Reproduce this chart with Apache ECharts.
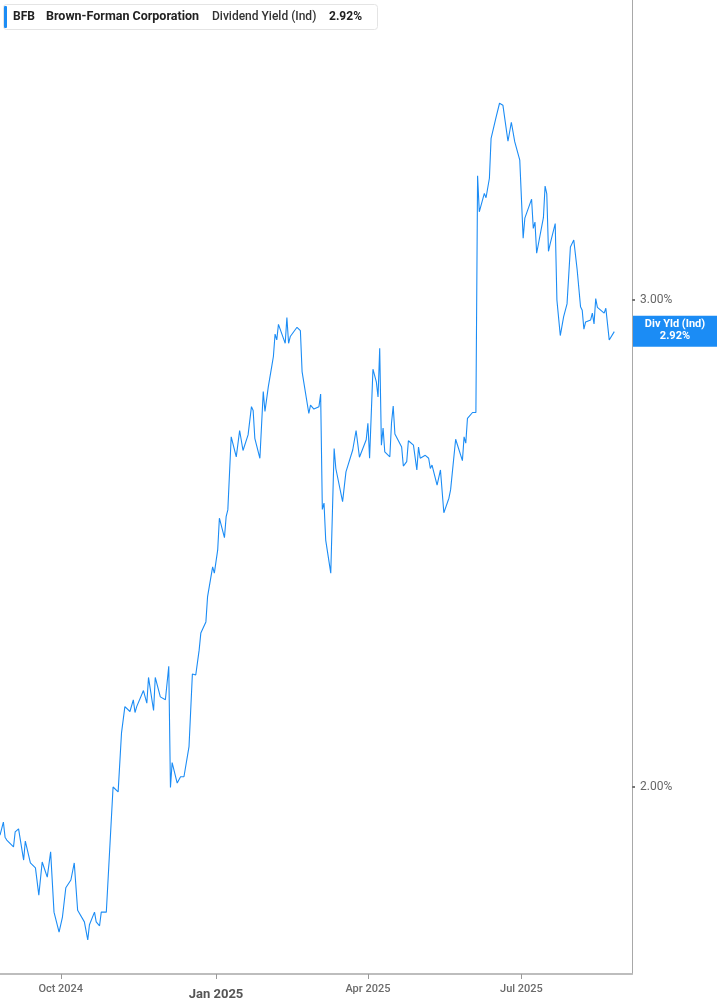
<!DOCTYPE html>
<html>
<head>
<meta charset="utf-8">
<script src="https://cdn.jsdelivr.net/npm/echarts@6/dist/echarts.min.js"></script>
<style>
html,body{margin:0;padding:0;background:#fff;}
#chart{width:717px;height:1005px;}
</style>
</head>
<body>
<div id="chart"></div>
<script>
// ---- Data ----
const ticker = 'BFB';
const companyName = 'Brown-Forman Corporation';
const metricName = 'Dividend Yield (Ind)';
const badgeName = 'Div Yld (Ind)';
const currentYield = 2.92;

const dates = [
'2024-08-26','2024-08-28','2024-08-29','2024-08-30','2024-09-03','2024-09-04','2024-09-06','2024-09-09','2024-09-10','2024-09-11',
'2024-09-13','2024-09-16','2024-09-18','2024-09-19','2024-09-20','2024-09-23','2024-09-24','2024-09-25','2024-09-27','2024-09-30',
'2024-10-02','2024-10-04','2024-10-07','2024-10-09','2024-10-11','2024-10-15','2024-10-17','2024-10-18','2024-10-21','2024-10-22',
'2024-10-24','2024-10-25','2024-10-28','2024-11-01','2024-11-04','2024-11-05','2024-11-06','2024-11-07','2024-11-08','2024-11-11',
'2024-11-13','2024-11-14','2024-11-15','2024-11-19','2024-11-21','2024-11-22','2024-11-25','2024-11-26','2024-11-29','2024-12-02',
'2024-12-04','2024-12-05','2024-12-06','2024-12-09','2024-12-11','2024-12-13','2024-12-16','2024-12-18','2024-12-20','2024-12-22',
'2024-12-23','2024-12-26','2024-12-27','2024-12-30','2024-12-31','2025-01-02','2025-01-03','2025-01-06','2025-01-07','2025-01-08',
'2025-01-10','2025-01-13','2025-01-14','2025-01-15','2025-01-17','2025-01-20','2025-01-22','2025-01-23','2025-01-24','2025-01-27',
'2025-01-29','2025-01-30','2025-02-01','2025-02-03','2025-02-04','2025-02-05','2025-02-06','2025-02-07','2025-02-11','2025-02-12',
'2025-02-13','2025-02-14','2025-02-18','2025-02-20','2025-02-21','2025-02-25','2025-02-26','2025-02-28','2025-03-03','2025-03-04',
'2025-03-05','2025-03-06','2025-03-07','2025-03-10','2025-03-12','2025-03-13','2025-03-14','2025-03-17','2025-03-19','2025-03-20',
'2025-03-23','2025-03-25','2025-03-27','2025-03-28','2025-03-31','2025-04-01','2025-04-02','2025-04-04','2025-04-06','2025-04-07',
'2025-04-08','2025-04-09','2025-04-10','2025-04-11','2025-04-14','2025-04-15','2025-04-16','2025-04-17','2025-04-21','2025-04-22',
'2025-04-24','2025-04-25','2025-04-28','2025-04-30','2025-05-01','2025-05-02','2025-05-05','2025-05-07','2025-05-08','2025-05-09',
'2025-05-12','2025-05-14','2025-05-16','2025-05-19','2025-05-20','2025-05-23','2025-05-27','2025-05-28','2025-05-29','2025-05-30',
'2025-06-02','2025-06-04','2025-06-05','2025-06-06','2025-06-09','2025-06-10','2025-06-12','2025-06-13','2025-06-16','2025-06-18',
'2025-06-20','2025-06-23','2025-06-25','2025-06-27','2025-06-30','2025-07-02','2025-07-03','2025-07-07','2025-07-08','2025-07-09',
'2025-07-10','2025-07-14','2025-07-15','2025-07-16','2025-07-17','2025-07-18','2025-07-21','2025-07-22','2025-07-24','2025-07-26',
'2025-07-28','2025-07-29','2025-07-30','2025-08-01','2025-08-03','2025-08-05','2025-08-06','2025-08-07','2025-08-08','2025-08-11',
'2025-08-12','2025-08-13','2025-08-14','2025-08-15','2025-08-19','2025-08-20','2025-08-21','2025-08-22','2025-08-25'
];

const yieldValues = [
1.900,1.927,1.896,1.890,1.876,1.907,1.913,1.849,1.888,1.886,
1.843,1.833,1.777,1.775,1.845,1.814,1.818,1.866,1.742,1.701,
1.732,1.792,1.808,1.843,1.746,1.722,1.685,1.716,1.742,1.722,
1.714,1.742,1.742,1.999,1.989,1.989,2.110,2.110,2.164,2.154,
2.178,2.152,2.164,2.197,2.171,2.224,2.156,2.224,2.184,2.178,
2.247,1.998,2.049,2.007,2.020,2.020,2.082,2.231,2.229,2.280,
2.315,2.338,2.390,2.451,2.438,2.486,2.551,2.511,2.554,2.568,
2.718,2.677,2.677,2.731,2.690,2.722,2.780,2.772,2.715,2.674,
2.811,2.770,2.821,2.862,2.883,2.929,2.917,2.949,2.910,2.963,
2.910,2.924,2.943,2.936,2.852,2.766,2.783,2.775,2.780,2.806,
2.569,2.582,2.506,2.438,2.694,2.653,2.653,2.585,2.646,2.644,
2.691,2.731,2.676,2.677,2.712,2.746,2.674,2.857,2.831,2.800,
2.900,2.701,2.736,2.687,2.677,2.747,2.781,2.724,2.697,2.658,
2.667,2.710,2.701,2.650,2.697,2.674,2.680,2.674,2.653,2.660,
2.619,2.650,2.562,2.592,2.609,2.713,2.669,2.718,2.705,2.756,
2.768,2.768,3.254,3.180,3.218,3.209,3.249,3.331,3.375,3.403,
3.399,3.325,3.364,3.324,3.286,3.126,3.167,3.206,3.146,3.159,
3.095,3.168,3.233,3.217,3.099,3.114,3.156,2.999,2.926,2.965,
2.991,2.992,3.108,3.122,3.061,2.985,2.978,2.939,2.954,2.958,
2.972,2.950,3.002,2.984,2.972,2.982,2.980,2.917,2.934
];

const xTickDates = ['2024-10-01','2025-01-01','2025-04-01','2025-07-01'];
const xTickLabels = ['Oct 2024','Jan 2025','Apr 2025','Jul 2025'];
const yTickValues = [2, 3];
const xRange = ['2024-08-26 00:00', '2025-09-04 12:00'];
const yRange = [1.615, 3.615];

// ---- Chart ----
const chart = echarts.init(document.getElementById('chart'), null, {renderer: 'canvas'});
const pd = s => echarts.number.parseDate(s).getTime();
const xTickTimes = xTickDates.map(pd);
const seriesData = dates.map((d, i) => [pd(d), yieldValues[i]]);
const lineColor = '#1b8cf5';
const FONT = 'Roboto, "Noto Sans", sans-serif';

const option = {
  animation: false,
  backgroundColor: '#ffffff',
  grid: {left: 0, right: 85, top: 0, bottom: 31, containLabel: false},
  xAxis: {
    type: 'value',
    min: pd(xRange[0]),
    max: pd(xRange[1]),
    splitLine: {show: false},
    axisLine: {show: true, lineStyle: {color: '#bdbdbd', width: 2}},
    axisTick: {show: true, customValues: xTickTimes, length: 5, lineStyle: {color: '#999', width: 1}},
    axisLabel: {
      customValues: xTickTimes,
      margin: 10,
      fontFamily: FONT,
      formatter: function (v) {
        let idx = -1;
        xTickTimes.forEach((t, i) => { if (Math.abs(t - v) < 43200000) idx = i; });
        if (idx < 0) return '';
        const lab = xTickLabels[idx];
        return lab.indexOf('Jan') === 0 ? '{b|' + lab + '}' : '{n|' + lab + '}';
      },
      rich: {
        n: {fontSize: 11, color: '#6b6b6b', fontFamily: FONT, fontWeight: 500},
        b: {fontSize: 13, color: '#555', fontFamily: FONT, fontWeight: 'bold', padding: [4, 0, 0, 0]}
      }
    }
  },
  yAxis: {
    type: 'value',
    position: 'right',
    min: yRange[0],
    max: yRange[1],
    splitLine: {show: false},
    axisLine: {show: true, lineStyle: {color: '#a8a8a8', width: 1}},
    axisTick: {show: true, customValues: yTickValues, length: 3, lineStyle: {color: '#777', width: 2}},
    axisLabel: {
      customValues: yTickValues,
      margin: 8,
      fontSize: 12,
      color: '#666',
      fontFamily: FONT,
      formatter: v => v.toFixed(2) + '%'
    }
  },
  series: [{
    type: 'line',
    data: seriesData,
    showSymbol: false,
    symbol: 'none',
    lineStyle: {color: lineColor, width: 1.1},
    itemStyle: {color: lineColor}
  }]
};
chart.setOption(option);

// Current-value badge on the right axis, positioned through the chart's own scales
const lastPt = seriesData[seriesData.length - 1];
const anchor = chart.convertToPixel({gridIndex: 0}, [pd(xRange[1]), lastPt[1]]);

chart.setOption({
  graphic: [
    {
      type: 'group',
      id: 'header',
      x: 3,
      y: 4,
      children: [
        {type: 'rect', id: 'hdrBox', shape: {x: 0.5, y: 0.5, width: 374, height: 25, r: 3}, style: {fill: '#fff', stroke: '#e4e4e4', lineWidth: 1}},
        {type: 'rect', id: 'hdrBar', shape: {x: 1, y: 2, width: 3, height: 22, r: 1}, style: {fill: lineColor}},
        {type: 'text', id: 'hdrT1', x: 10, y: 13, style: {text: ticker, fontFamily: FONT, fontSize: 12, fontWeight: 'bold', fill: '#222', verticalAlign: 'middle'}},
        {type: 'text', id: 'hdrT2', x: 43, y: 13, style: {text: companyName, fontFamily: FONT, fontSize: 12.5, fontWeight: 'bold', fill: '#222', verticalAlign: 'middle'}},
        {type: 'text', id: 'hdrT3', x: 209, y: 13, style: {text: metricName, fontFamily: FONT, fontSize: 12, fontWeight: 500, fill: '#333', verticalAlign: 'middle'}},
        {type: 'text', id: 'hdrT4', x: 326, y: 13, style: {text: currentYield.toFixed(2) + '%', fontFamily: FONT, fontSize: 12, fontWeight: 'bold', fill: '#222', verticalAlign: 'middle'}}
      ]
    },
    {
      type: 'group',
      id: 'badge',
      x: anchor[0],
      y: anchor[1],
      z: 100,
      children: [
        {type: 'rect', id: 'bdgBox', shape: {x: 0.5, y: -16, width: 86, height: 31}, style: {fill: lineColor}},
        {type: 'text', id: 'bdgT1', x: 43, y: -7, style: {text: badgeName, fontFamily: FONT, fontSize: 11, fontWeight: 'bold', fill: '#fff', align: 'center', verticalAlign: 'middle'}},
        {type: 'text', id: 'bdgT2', x: 43, y: 5, style: {text: currentYield.toFixed(2) + '%', fontFamily: FONT, fontSize: 11, fontWeight: 'bold', fill: '#fff', align: 'center', verticalAlign: 'middle'}}
      ]
    }
  ]
});
</script>
</body>
</html>
